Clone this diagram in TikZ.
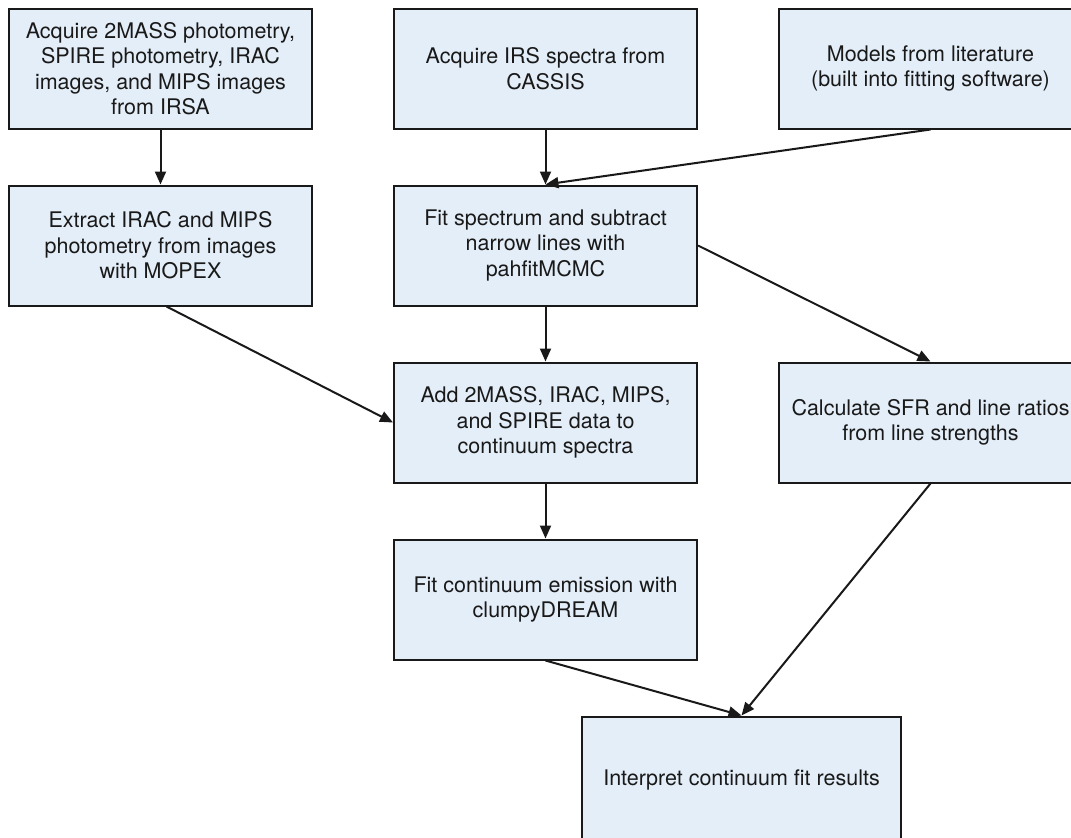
\documentclass[tikz,border=0pt]{standalone}
\usepackage{fontspec}
\setmainfont{TeX Gyre Heros}
\usepackage{xcolor}
\usetikzlibrary{positioning, arrows.meta}
\definecolor{boxfill}{RGB}{228,238,248}

\begin{document}
\begin{tikzpicture}[
        % Define common styles for the nodes and text
        node distance=55pt and 80pt,
        box/.style={draw=black!90, fill=boxfill, rectangle, line width=2pt, align=center, minimum width=303pt, minimum height=120pt, inner sep=6pt, text=black!90, font=\fontsize{21.5}{25.5}\selectfont},
        arrow/.style={-{Triangle[length=13pt, width=11pt]}, line width=2pt, draw=black!90}
    ]
    \useasboundingbox (0,0) rectangle (1071pt,-838pt);

        % Define the nodes
        \node[box] (irsa) at (160.5pt,-68.5pt) {Acquire 2MASS photometry, \\ SPIRE photometry, IRAC \\ images, and MIPS images \\ from IRSA};
        
        \node[box, right=of irsa] (cassis) {Acquire IRS spectra from \\ CASSIS};
        
        \node[box, right=of cassis] (models) {Models from literature \\ (built into fitting software)};
        
        \node[box, below=of irsa] (mopex) {Extract IRAC and MIPS \\ photometry from images \\ with MOPEX};
        
        \node[box, below=of cassis] (pahfit) {Fit spectrum and subtract \\ narrow lines with \\ pahfitMCMC};
        
        \node[box, below=of pahfit] (addphot) {Add 2MASS, IRAC, MIPS, \\ and SPIRE data to \\ continuum spectra};
        
        \node[box, right=of addphot] (sfr) {Calculate SFR and line ratios \\ from line strengths};
        
        \node[box, below=of addphot] (clumpy) {Fit continuum emission with \\ clumpyDREAM};
        
        \node[box, below=of clumpy, xshift=196pt, minimum width=319pt, minimum height=126pt] (interpret) {Interpret continuum fit results};
    
        % Draw the arrows
        \draw[arrow] (irsa) -- (mopex);
        
        \draw[arrow] (cassis) -- (pahfit);
        
        \draw[arrow] (models.south) -- (pahfit.north);
        
        \draw[arrow] ([xshift=6pt]mopex.south) -- (addphot.west);
        
        \draw[arrow] (pahfit) -- (addphot);
        
        \draw[arrow] (pahfit.east) -- (sfr.north);
        
        \draw[arrow] (addphot) -- (clumpy);
        
        \draw[arrow] (clumpy.south) -- (interpret.north);
        
        \draw[arrow] (sfr.south) -- (interpret.north);
    
    \end{tikzpicture}
\end{document}
